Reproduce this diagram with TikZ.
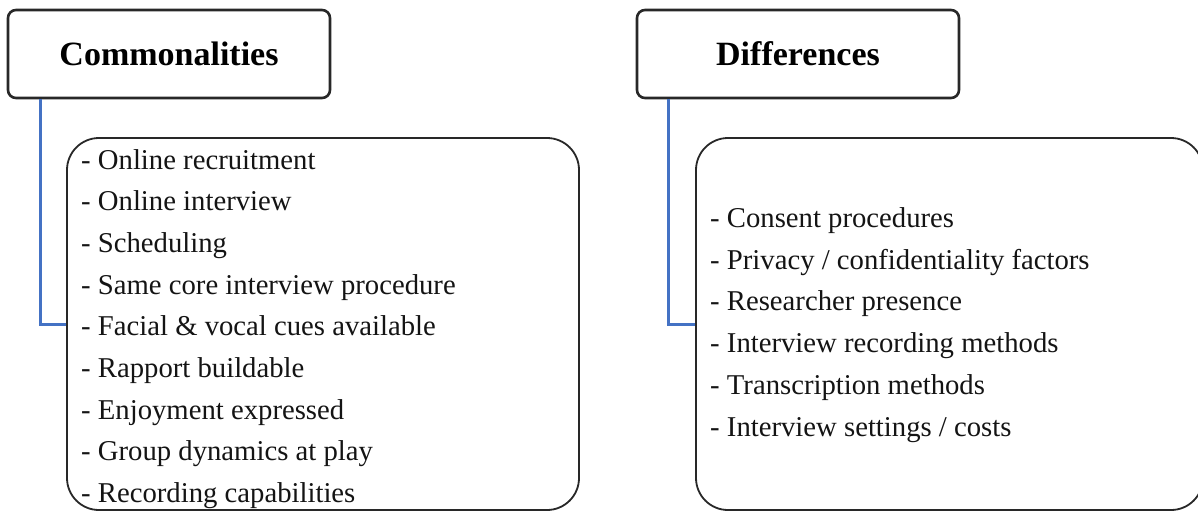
\documentclass[tikz,border=0pt]{standalone}
\usepackage{fontspec}
\setmainfont{Liberation Serif}
\definecolor{linkblue}{RGB}{68,114,196}
\definecolor{boxline}{RGB}{40,40,40}
\definecolor{txt}{RGB}{20,20,20}
\begin{document}
\begin{tikzpicture}[x=1pt,y=-1pt,
  headbox/.style={draw=boxline,line width=2.6pt,rounded corners=8pt,fill=white,
    minimum width=322pt,minimum height=88pt,inner sep=0pt,
    font=\fontsize{34}{40}\selectfont\bfseries,text=black},
  listbox/.style={draw=boxline,line width=1.8pt,rounded corners=32pt,
    minimum height=372pt,inner sep=0pt},
  item/.style={anchor=base west,inner sep=0pt,text=txt,
    font=\fontsize{28.7}{34}\selectfont},
  conn/.style={draw=linkblue,line width=3pt}]
\useasboundingbox (0,0) rectangle (1198,512);
\clip (0,0) rectangle (1198,512);
\fill[white] (0,0) rectangle (1198,512);

% headers
\node[headbox] (chead) at (169,54) {Commonalities};
\node[headbox] (dhead) at (798,54) {Differences};

% list boxes
\node[listbox,minimum width=512pt] (clist) at (323,324) {};
\node[listbox,minimum width=507pt] (dlist) at (949.5,324) {};

% connectors
\draw[conn] ([xshift=34pt]chead.south west) |- (clist.west);
\draw[conn] ([xshift=33pt]dhead.south west) |- (dlist.west);

% commonalities items
\node[item] (c1) at (81,169) {- Online recruitment};
\node[item] (c2) at (81,210.7) {- Online interview};
\node[item] (c3) at (81,252.4) {- Scheduling};
\node[item] (c4) at (81,294.1) {- Same core interview procedure};
\node[item] (c5) at (81,335.8) {- Facial \& vocal cues available};
\node[item] (c6) at (81,377.5) {- Rapport buildable};
\node[item] (c7) at (81,419.2) {- Enjoyment expressed};
\node[item] (c8) at (81,460.9) {- Group dynamics at play};
\node[item] (c9) at (81,502.6) {- Recording capabilities};

% differences items
\node[item] (d1) at (710,227.5) {- Consent procedures};
\node[item] (d2) at (710,269.2) {- Privacy / confidentiality factors};
\node[item] (d3) at (710,310.9) {- Researcher presence};
\node[item] (d4) at (710,352.6) {- Interview recording methods};
\node[item] (d5) at (710,394.3) {- Transcription methods};
\node[item] (d6) at (710,436.0) {- Interview settings / costs};
\end{tikzpicture}
\end{document}
